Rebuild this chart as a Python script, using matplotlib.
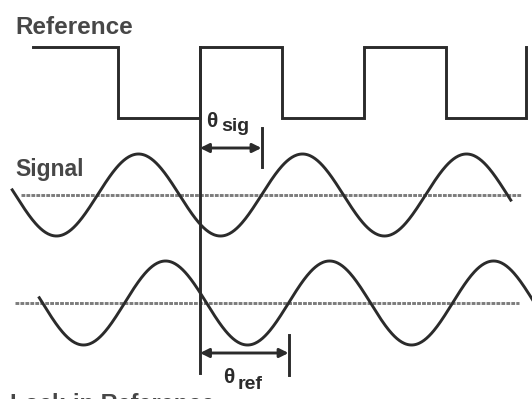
import numpy as np
import matplotlib
matplotlib.use("Agg")
import matplotlib.pyplot as plt

plt.rcParams['font.family'] = ['Liberation Sans', 'DejaVu Sans']

# time axis in cycles of the reference, 0 = rising edge of the reference
# square wave: start, then alternating falling / rising edges
sq_start = -1.02
sq_edges = [-0.5, 0.0, 0.5, 1.0, 1.5, 1.99]
# phase (cycles) from reference edge to rising zero crossing of each sine
sig_phase = 0.375
ref_phase = 0.54
sig_cycles = 1.5
ref_end = 2.03

ink = "#2b2b2b"
txt = "#474747"
axis_col = "#7c7c7c"
lw = 2.1

fig = plt.figure(figsize=(5.32, 3.99), dpi=100)
ax = fig.add_axes([0, 0, 1, 1])
ax.set_xlim(-200 / 164, 332 / 164)
ax.set_ylim(399, 0)
ax.axis("off")

# reference square wave
hi, lo = 47, 118
xs, ys = [sq_start], [hi]
level = hi
for e in sq_edges:
    xs += [e, e]
    new = lo if level == hi else hi
    ys += [level, new]
    level = new
ax.plot(xs, ys, color=ink, lw=lw, solid_joinstyle="miter")

# signal sine
sig_base, sig_amp = 195, 41
ax.plot([-1.09, 1.96], [sig_base, sig_base], color=axis_col, lw=2.1, ls=(0, (1.3, 0.4)))
t = np.linspace(sig_phase - sig_cycles - 0.02, sig_phase + sig_cycles + 0.02, 600)
ax.plot(t, sig_base - sig_amp * np.sin(2 * np.pi * (t - sig_phase)), color=ink, lw=lw)

# reference-derived sine
ref_base, ref_amp = 303, 42
ax.plot([-1.13, 1.945], [ref_base, ref_base], color=axis_col, lw=2.1, ls=(0, (1.3, 0.4)))
t = np.linspace(ref_phase - 1.5 - 0.02, ref_end, 600)
ax.plot(t, ref_base - ref_amp * np.sin(2 * np.pi * (t - ref_phase)), color=ink, lw=lw)

# phase marker line
ax.plot([0, 0], [hi, 373], color=ink, lw=lw)

# theta_sig arrow
ax.plot([sig_phase, sig_phase], [128, 167], color=ink, lw=lw)
ax.annotate("", xy=(sig_phase, 148), xytext=(0, 148),
            arrowprops=dict(arrowstyle="<|-|>", color=ink, lw=lw,
                            shrinkA=0, shrinkB=0, mutation_scale=13))
# theta_ref arrow
ax.plot([ref_phase, ref_phase], [335, 375], color=ink, lw=lw)
ax.annotate("", xy=(ref_phase, 353), xytext=(0, 353),
            arrowprops=dict(arrowstyle="<|-|>", color=ink, lw=lw,
                            shrinkA=0, shrinkB=0, mutation_scale=13))

# labels
ax.text(-185 / 164, 34, "Reference", fontsize=17.5, color=txt, va="baseline", weight="bold")
ax.text(-185 / 164, 176, "Signal", fontsize=16.5, color=txt, va="baseline", weight="bold")
ax.text(6 / 164, 127, "θ", fontsize=15, color=ink, va="baseline", weight="bold")
ax.text(21 / 164, 131, "sig", fontsize=14, color=ink, va="baseline", weight="bold")
ax.text(23 / 164, 383, "θ", fontsize=15, color=ink, va="baseline", weight="bold")
ax.text(38 / 164, 389, "ref", fontsize=14, color=ink, va="baseline", weight="bold")
ax.text(-190 / 164, 411, "Lock-in Reference", fontsize=17, color=txt, va="baseline",
        weight="bold", clip_on=False)

fig.savefig("out.png", dpi=100)
